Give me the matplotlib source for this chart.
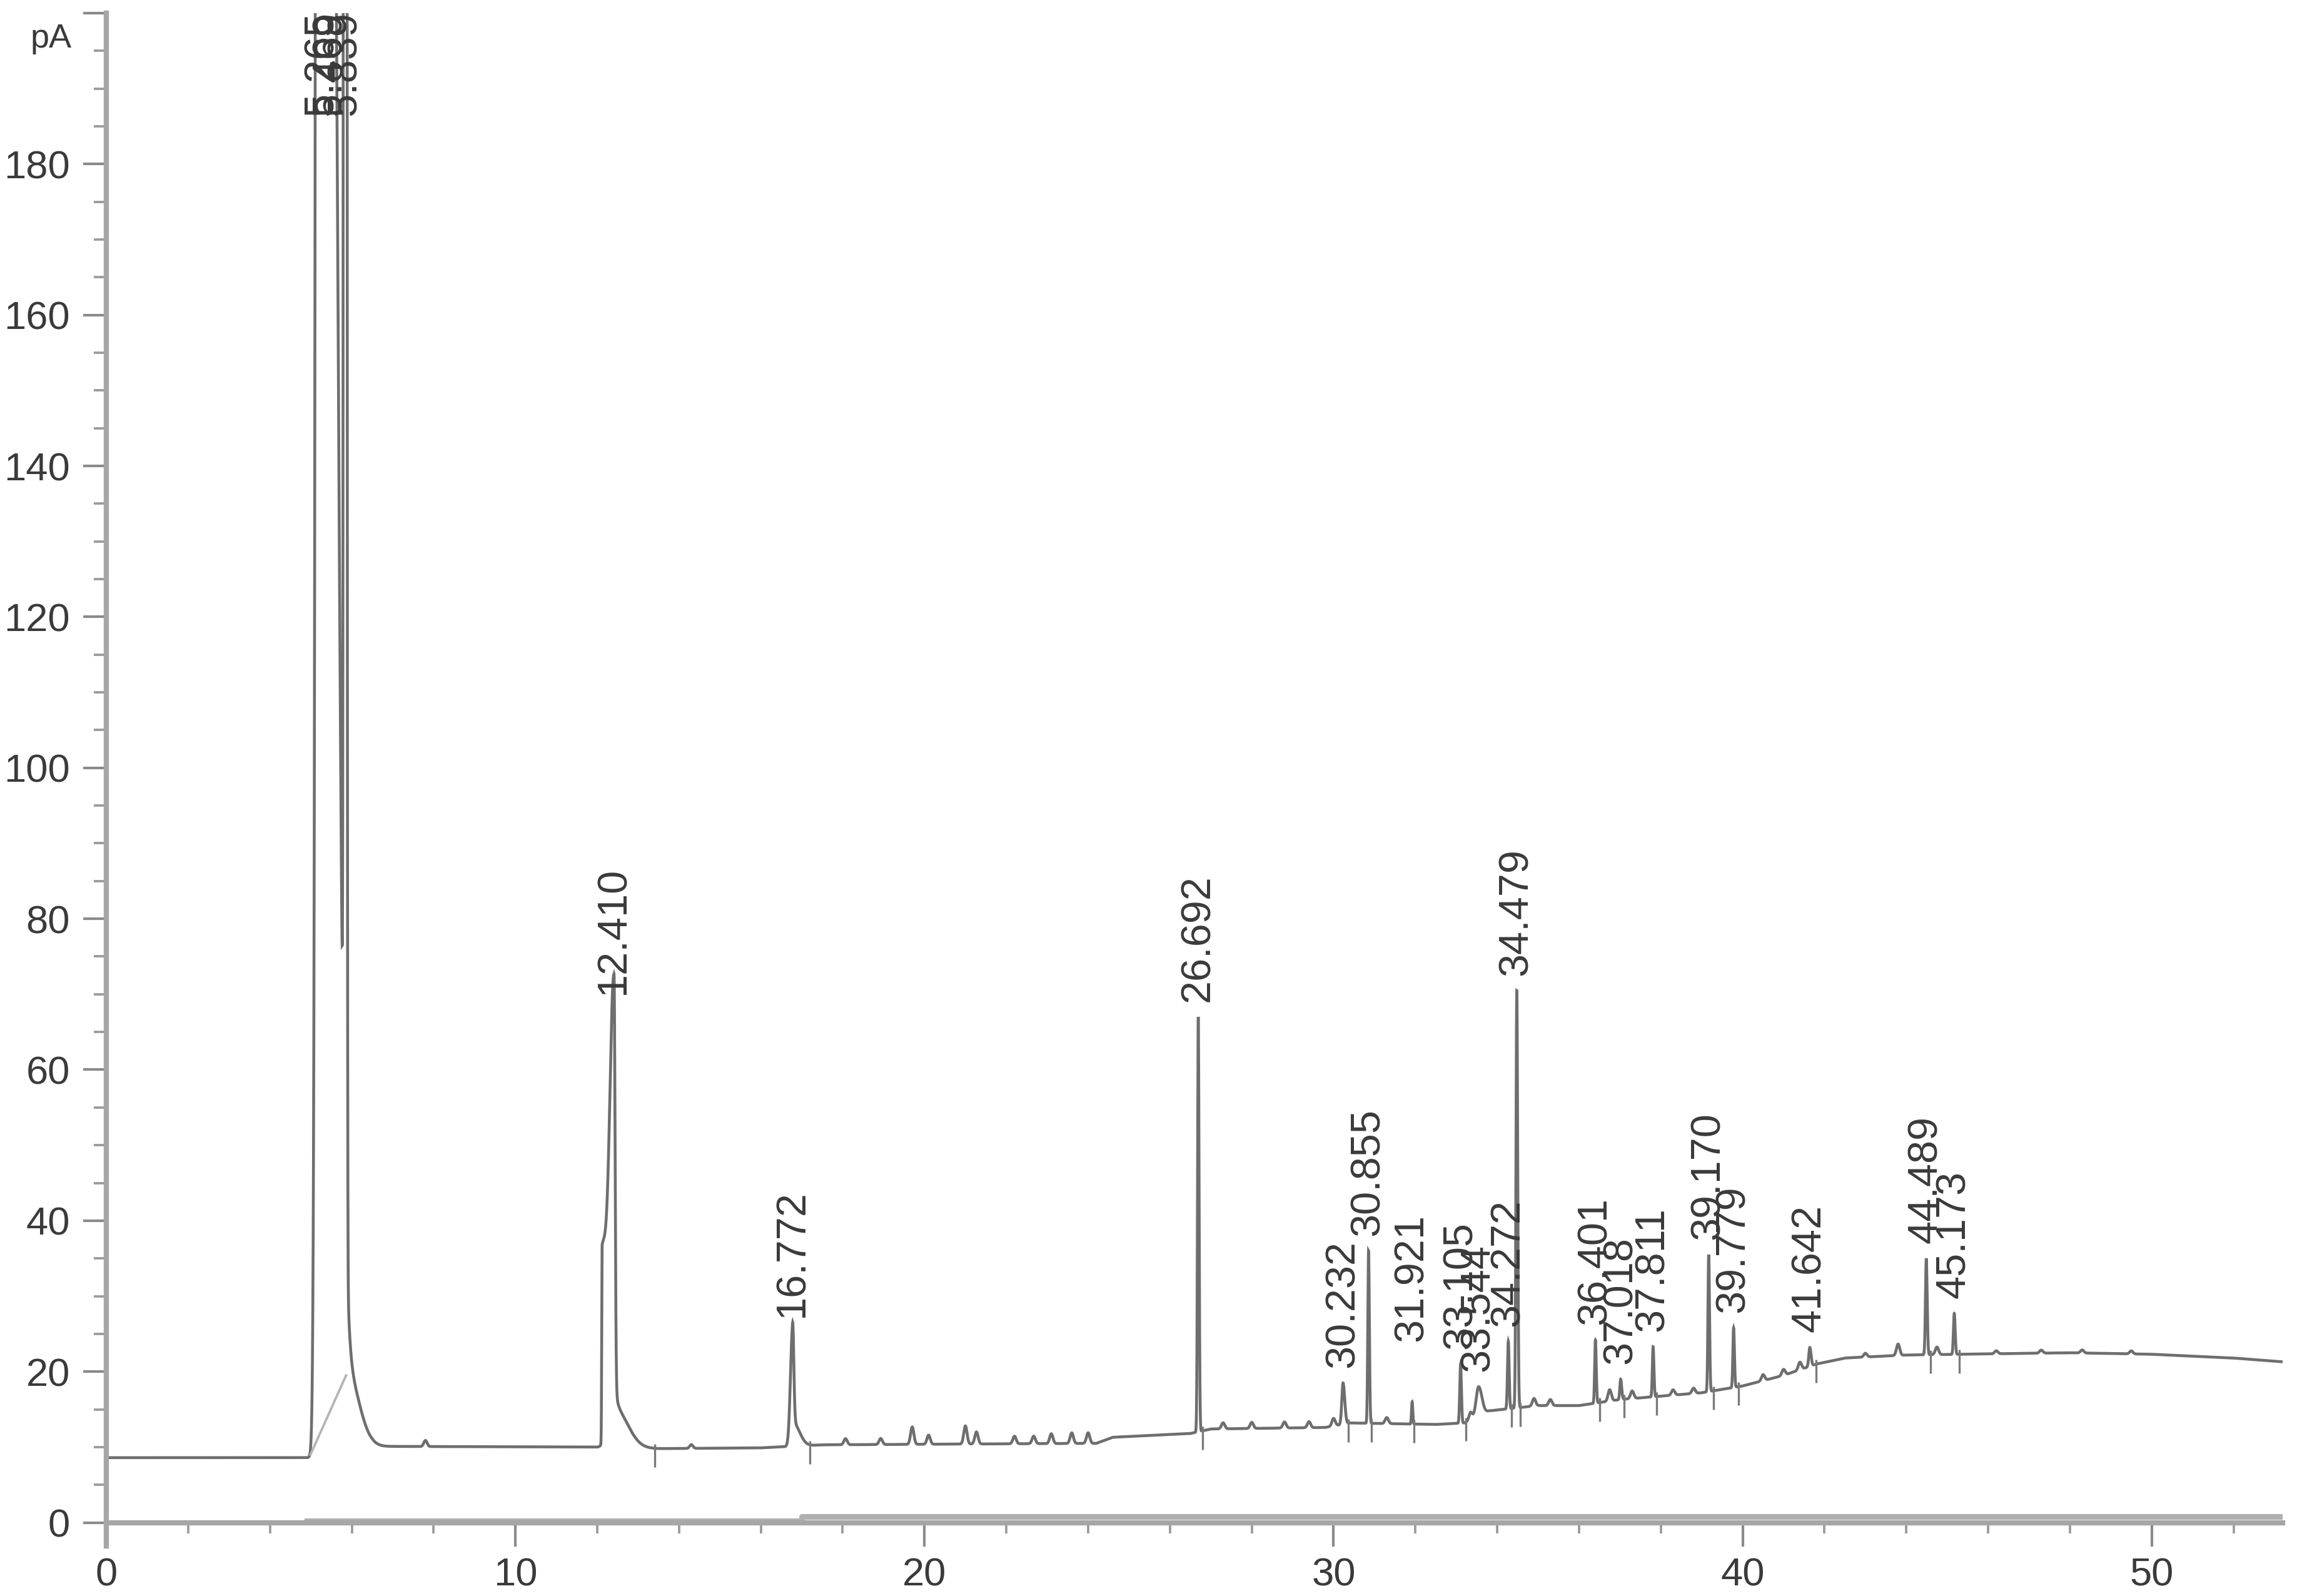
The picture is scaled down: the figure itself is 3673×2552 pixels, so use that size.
import numpy as np
import matplotlib
matplotlib.use("Agg")
import matplotlib.pyplot as plt
from matplotlib import font_manager
from matplotlib.ticker import MultipleLocator, FixedLocator
import matplotlib.transforms as mtransforms

# ---------------- data ----------------
# labelled peaks: retention time label, apex height (pA), left / right widths (min)
peak_labels = ["5.265", "5.469", "5.839", "12.410", "16.772", "26.692", "30.232",
               "30.855", "31.921", "33.105", "33.544", "34.272", "34.479", "36.401",
               "37.018", "37.811", "39.170", "39.779", "41.642", "44.489", "45.173"]
peak_apex = [2500, 300, 3000, 68, 25.2, 67, 18.5,
             36, 16, 21, 18, 24, 70.5, 24.2,
             19, 23.3, 35.5, 25.8, 23.2, 35, 27.7]
peak_sig_left = [0.07, 0.10, 0.02, 0.10, 0.05, 0.018, 0.03,
                 0.018, 0.015, 0.02, 0.06, 0.02, 0.02, 0.018,
                 0.02, 0.018, 0.018, 0.018, 0.025, 0.02, 0.02]
peak_sig_right = [0.08, 0.17, 0.02, 0.025, 0.03, 0.02, 0.04,
                  0.02, 0.015, 0.02, 0.08, 0.02, 0.022, 0.02,
                  0.025, 0.02, 0.02, 0.02, 0.03, 0.022, 0.022]

# unlabelled shoulders / tails of the big peaks: time, height above baseline, widths
shoulder_rt = [5.90, 12.12, 12.45, 16.80]
shoulder_h = [10.0, 26.0, 5.0, 3.0]
shoulder_sig_left = [0.02, 0.01, 0.02, 0.02]
shoulder_sig_right = [0.28, 0.15, 0.30, 0.15]

# small unlabelled bumps: time, height above baseline
minor_rt = [7.8, 14.3, 18.07, 18.93, 19.7, 20.1, 21.0, 21.27, 22.2, 22.67, 23.1, 23.6,
            24.0, 27.3, 28.0, 28.8, 29.4, 30.0, 31.3, 33.35, 34.9, 35.3, 36.75, 37.3,
            38.3, 38.8, 40.5, 41.0, 41.4, 43.0, 43.8, 44.75, 46.2, 47.3, 48.3, 49.5]
minor_h = [0.8, 0.5, 0.8, 0.8, 2.3, 1.2, 2.4, 1.6, 1.0, 1.0, 1.3, 1.4,
           1.4, 0.8, 0.8, 0.8, 0.8, 1.0, 0.8, 1.0, 1.0, 0.8, 1.5, 1.0,
           0.7, 0.7, 0.8, 0.8, 1.0, 0.5, 1.5, 1.0, 0.4, 0.4, 0.4, 0.4]

# detector baseline drift
base_t = [0, 4.95, 6.5, 12.0, 13.5, 16.0, 17.5, 24.2, 24.6, 26.5, 27.0, 29.8, 30.4,
          32.5, 33.2, 33.8, 35.0, 36.0, 37.0, 39.0, 40.0, 41.0, 41.8, 42.5, 44.0,
          48.0, 50.0, 52.0, 53.2]
base_y = [8.6, 8.6, 10.1, 10.0, 9.8, 9.9, 10.3, 10.5, 11.3, 11.8, 12.4, 12.6, 13.2,
          13.0, 13.2, 14.8, 15.5, 15.5, 16.3, 17.2, 18.1, 19.5, 21.0, 21.8, 22.2,
          22.5, 22.3, 21.8, 21.3]

# integration end markers
peak_end = [13.4, 17.2, 26.8, 30.36, 30.92, 31.97, 33.24, 34.35, 34.56, 36.5,
            37.1, 37.9, 39.29, 39.9, 41.8, 44.6, 45.3]

# skimmed baseline under solvent peak
skim_t = [4.99, 5.86]
skim_y = [9.0, 19.5]

# second (auxiliary) signal near zero
aux_t = [4.9, 17.0, 17.0, 53.2]
aux_y = [0.2, 0.2, 0.8, 0.8]

x_ticks = [0, 10, 20, 30, 40, 50]
y_ticks = [0, 20, 40, 60, 80, 100, 120, 140, 160, 180, 200]
y_ticklabels = ["0", "20", "40", "60", "80", "100", "120", "140", "160", "180", ""]

# ---------------- build trace ----------------
t = np.linspace(0, 53.2, 60000)
base = np.interp(t, base_t, base_y)


def asym(tt, c, h, sl, sr):
    s = np.where(tt < c, sl, sr)
    return h * np.exp(-(tt - c) ** 2 / (2 * s ** 2))


sig = base.copy()
for c, a, sl, sr in zip([float(l) for l in peak_labels], peak_apex, peak_sig_left, peak_sig_right):
    h = a - np.interp(c, base_t, base_y)
    sig += asym(t, c, h, sl, sr)
for c, h, sl, sr in zip(shoulder_rt, shoulder_h, shoulder_sig_left, shoulder_sig_right):
    sig += asym(t, c, h, sl, sr)
for c, h in zip(minor_rt, minor_h):
    sig += asym(t, c, h, 0.04, 0.04)

# ---------------- fonts ----------------
names = {f.name for f in font_manager.fontManager.ttflist}
tick_family = "Liberation Sans Narrow" if "Liberation Sans Narrow" in names else "Liberation Sans"
tick_size = 16.8 if tick_family == "Liberation Sans Narrow" else 15.2

# ---------------- figure ----------------
fig = plt.figure(figsize=(3673 / 300, 2552 / 300), dpi=300)
ax = fig.add_axes([0.0463, 0.03135, 0.94744, 0.96045])

text_col = "#3a3a3a"
trace_col = "#6e6e6e"

ax.plot(t, sig, color=trace_col, lw=1.1, solid_joinstyle="miter")
ax.plot(skim_t, skim_y, color="#b4b4b4", lw=0.9)
ax.plot(aux_t, aux_y, color="#b0b0b0", lw=2.2)

end_base = np.interp(peak_end, base_t, base_y)
ax.vlines(peak_end, end_base - 2.5, end_base + 0.6, color="#7a7a7a", lw=0.8)

for lab, a in zip(peak_labels, peak_apex):
    c = float(lab)
    lift = 8.0 if lab == "31.921" else 2.0
    yl = min(a + lift, 186.4)
    ax.text(c, yl, lab, rotation=90, ha="center", va="bottom",
            fontsize=16, family="Liberation Sans", color=text_col)

ax.set_xlim(0, 53.2)
ax.set_ylim(-3.1, 200)

for s in ["top", "right"]:
    ax.spines[s].set_visible(False)
ax.spines["bottom"].set_position(("data", 0))
for s in ["left", "bottom"]:
    ax.spines[s].set_color("#a6a6a6")
    ax.spines[s].set_linewidth(2.0)

ax.xaxis.set_major_locator(FixedLocator(x_ticks))
ax.xaxis.set_minor_locator(MultipleLocator(2))
ax.yaxis.set_major_locator(FixedLocator(y_ticks))
ax.set_yticklabels(y_ticklabels)
ax.yaxis.set_minor_locator(MultipleLocator(5))

ax.tick_params(axis="x", which="major", direction="out", length=9, width=1.0,
               color="#8a8a8a", pad=4.2, labelsize=tick_size, labelcolor=text_col)
ax.tick_params(axis="x", which="minor", direction="out", length=4, width=0.9, color="#9a9a9a")
ax.tick_params(axis="y", which="major", direction="out", length=9, width=1.0,
               color="#8a8a8a", pad=4.9, labelsize=tick_size, labelcolor=text_col)
ax.tick_params(axis="y", which="minor", direction="out", length=4.8, width=0.9, color="#9a9a9a")
for lab in ax.get_xticklabels() + ax.get_yticklabels():
    lab.set_family(tick_family)

trans = mtransforms.blended_transform_factory(ax.transAxes, ax.transData)
ax.text(-0.0253, 196.6, "pA", transform=trans, ha="center", va="center",
        fontsize=13, family="Liberation Sans", color=text_col)

fig.savefig("out.png", dpi=300)
